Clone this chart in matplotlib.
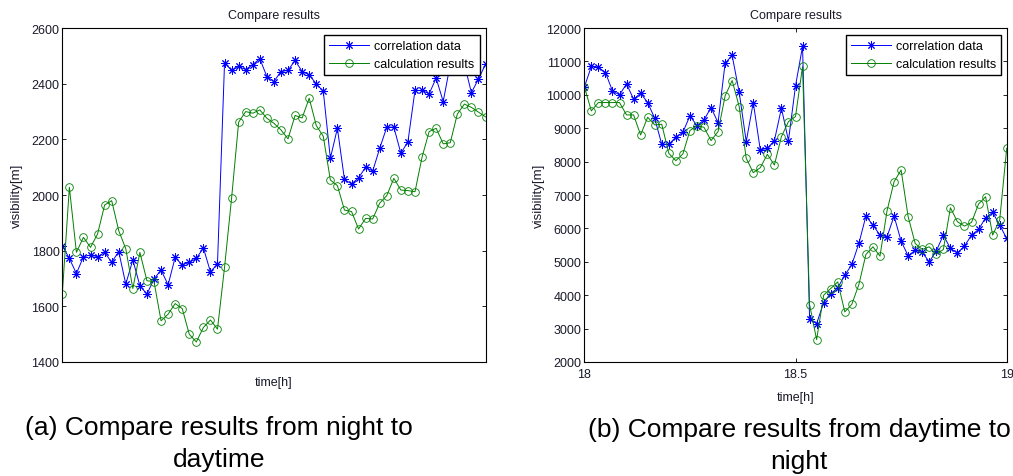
import matplotlib
matplotlib.use('Agg')
import matplotlib.pyplot as plt
import numpy as np

plt.rcParams['font.family'] = ['Liberation Sans', 'DejaVu Sans']
plt.rcParams['font.size'] = 9

# 시간축 (1분 간격, 61개)
minutes = np.arange(61)
t_day = 18 + minutes / 60.0

# (a) night -> daytime
corr_a = [1818, 1772, 1718, 1778, 1785, 1778, 1794, 1758, 1797, 1680,
          1767, 1674, 1644, 1698, 1731, 1677, 1776, 1749, 1758, 1772,
          1810, 1724, 1752, 2475, 2448, 2462, 2451, 2469, 2490, 2426,
          2408, 2444, 2448, 2484, 2444, 2432, 2400, 2373, 2132, 2240,
          2056, 2040, 2062, 2100, 2086, 2168, 2244, 2244, 2150, 2192,
          2376, 2376, 2364, 2420, 2336, 2470, 2480, 2470, 2368, 2417,
          2470]
calc_a = [1644, 2028, 1794, 1848, 1812, 1860, 1964, 1980, 1872, 1807,
          1664, 1794, 1692, 1689, 1548, 1572, 1610, 1592, 1500, 1472,
          1524, 1551, 1518, 1740, 1989, 2262, 2300, 2294, 2306, 2276,
          2258, 2234, 2202, 2286, 2277, 2348, 2250, 2211, 2054, 2034,
          1946, 1941, 1878, 1916, 1914, 1971, 1998, 2060, 2018, 2016,
          2012, 2136, 2228, 2240, 2184, 2188, 2291, 2327, 2315, 2298,
          2281]

# (b) daytime -> night
corr_b = [10230, 10850, 10830, 10670, 10120, 10000, 10330, 9870, 10050, 9770,
          9300, 8520, 8520, 8730, 8880, 9370, 9080, 9250, 9620, 9170,
          10950, 11180, 10080, 8600, 9770, 8350, 8400, 8630, 9600, 8630,
          10270, 11450, 3300, 3150, 3780, 4050, 4220, 4600, 4920, 5550,
          6370, 6100, 5800, 5750, 6370, 5620, 5180, 5350, 5280, 5000,
          5330, 5800, 5400, 5270, 5470, 5800, 5970, 6320, 6480, 6100,
          5700]
calc_b = [10250, 9520, 9770, 9770, 9770, 9770, 9400, 9400, 8800, 9330,
          9100, 9120, 8250, 8030, 8230, 8930, 9080, 9030, 8630, 8900,
          9970, 10430, 9650, 8100, 7670, 7820, 8220, 7900, 8750, 9200,
          9350, 10850, 3720, 2670, 4000, 4200, 4400, 3500, 3730, 4320,
          5220, 5450, 5170, 6530, 7400, 7750, 6350, 5550, 5370, 5450,
          5220, 5370, 6620, 6200, 6070, 6180, 6730, 6950, 5800, 6250,
          8400]

yticks_a = [1400, 1600, 1800, 2000, 2200, 2400, 2600]
yticks_b = [2000, 3000, 4000, 5000, 6000, 7000, 8000, 9000, 10000, 11000, 12000]
xticks_b = [18, 18.5, 19]
xticklabels_b = ['18', '18.5', '19']

BLUE = (0, 0, 1)
GREEN = (0, 0.5, 0)
STAR = (8, 2, 0)
TXT = '#1a1a2a'

fig = plt.figure(figsize=(10.13, 4.77), dpi=100)
ax1 = fig.add_axes([0.0615, 0.239, 0.4178, 0.700])
ax2 = fig.add_axes([0.5768, 0.239, 0.4170, 0.700])


def draw(ax, x, corr, calc):
    ax.plot(x, corr, color=BLUE, lw=0.7, marker=STAR, ms=6, mew=0.7,
            label='correlation data')
    ax.plot(x, calc, color=GREEN, lw=0.7, marker='o', ms=5.5, mew=0.6,
            mfc='none', label='calculation results')
    ax.set_title('Compare results', fontsize=9, y=1.039, pad=0, va='center',
                 color=TXT)
    ax.set_ylabel('visibility[m]', fontsize=9.5, color=TXT)
    ax.set_xlabel('time[h]', fontsize=9, color=TXT)
    ax.tick_params(direction='in', length=3, width=0.6, top=True, right=True,
                   labelsize=9, pad=2, labelcolor=TXT)
    ax.tick_params(axis='x', pad=4)
    for s in ax.spines.values():
        s.set_linewidth(0.8)
    ax.legend(loc='upper right', bbox_to_anchor=(0.986, 0.978), borderaxespad=0,
              fontsize=9, fancybox=False, edgecolor='black', framealpha=1,
              handlelength=3.2, handletextpad=0.4, labelspacing=0.45,
              borderpad=0.4)


draw(ax1, minutes, corr_a, calc_a)
ax1.set_xlim(0, 60)
ax1.set_ylim(1400, 2600)
ax1.set_yticks(yticks_a)
ax1.set_xticks([])
ax1.xaxis.set_label_coords(0.5, -0.042)
ax1.yaxis.set_label_coords(-0.093, 0.5)

draw(ax2, t_day, corr_b, calc_b)
ax2.set_xlim(18, 19)
ax2.set_ylim(2000, 12000)
ax2.set_yticks(yticks_b)
ax2.set_xticks(xticks_b)
ax2.set_xticklabels(xticklabels_b)
ax2.xaxis.set_label_coords(0.5, -0.087)
ax2.yaxis.set_label_coords(-0.093, 0.5)

# 하단 캡션
fig.text(219 / 1013, 1 - 428 / 477, '(a) Compare results from night to',
         ha='center', va='center', fontsize=19)
fig.text(219 / 1013, 1 - 460 / 477, 'daytime',
         ha='center', va='center', fontsize=19)
fig.text(799 / 1013, 1 - 430 / 477, '(b) Compare results from daytime to',
         ha='center', va='center', fontsize=19)
fig.text(799 / 1013, 1 - 462 / 477, 'night',
         ha='center', va='center', fontsize=19)

fig.savefig('out.png', dpi=100)
